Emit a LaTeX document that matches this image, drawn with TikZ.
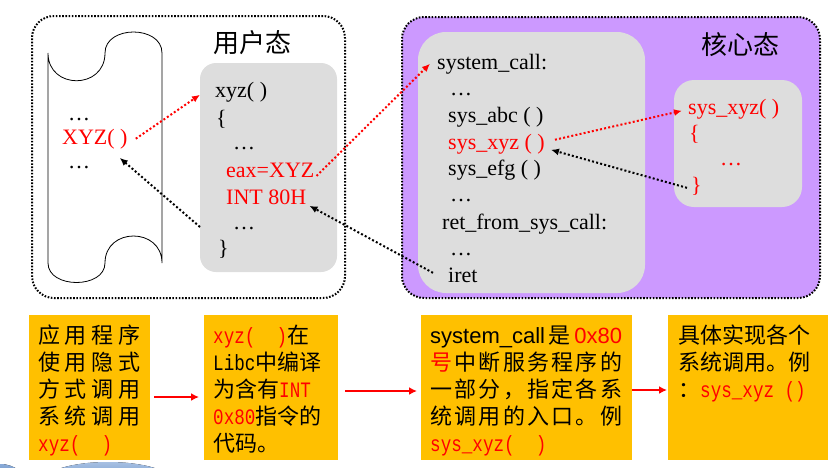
\documentclass[tikz,border=0pt]{standalone}
\usepackage{fontspec}
\usepackage{graphicx}
\setmainfont{Liberation Serif}
\newfontfamily\cjk{Noto Sans CJK SC}
\newfontfamily\sansf{Liberation Sans}
\newfontfamily\monof{Liberation Mono}
\usetikzlibrary{arrows.meta}
\definecolor{cred}{RGB}{255,0,0}
\definecolor{corange}{RGB}{255,192,0}
\definecolor{cgray}{RGB}{221,221,221}
\definecolor{cpurple}{RGB}{204,153,255}
\definecolor{cblue}{RGB}{60,115,190}
\newcommand\mn[1]{\scalebox{0.8}[1]{\monof #1}}
\newcommand\lines[1]{\vtop{\baselineskip=27pt\lineskiplimit=-30pt\halign{##\hfil\cr#1\crcr}}}
\begin{document}
\begin{tikzpicture}[x=1pt,y=-1pt,
  code/.style={anchor=base west,inner sep=0pt,font=\fontsize{22}{24}\selectfont},
  rcode/.style={code,text=cred},
  statetitle/.style={anchor=center,inner sep=0pt,font=\cjk\fontsize{26}{28}\selectfont},
  statebox/.style={draw=black,line width=2pt,dash pattern=on 1.6pt off 1.6pt,rounded corners=22pt,anchor=north west,inner sep=0pt,outer sep=0pt},
  graybox/.style={fill=cgray,anchor=north west,inner sep=0pt,outer sep=0pt},
  callarrow/.style={line width=2pt,dash pattern=on 2pt off 2.2pt,-{Latex[length=8pt,width=7pt]}},
  notebox/.style={fill=corange,anchor=north west,inner sep=0pt,outer sep=0pt},
  ntext/.style={anchor=base west,inner sep=0pt,font=\cjk\fontsize{22}{27}\selectfont},
  flow/.style={draw=cred,line width=2pt,-{Latex[length=8pt,width=8pt]}}
]
\useasboundingbox (0,0) rectangle (831,467);

% background swoosh
\begin{scope}
  \clip (0,440) rectangle (831,467);
  \fill[top color=cblue!45, bottom color=cblue] (108,481) ellipse [x radius=64pt, y radius=19pt];
  \fill[top color=cblue!60, bottom color=cblue!80!black] (0,488) ellipse [x radius=28pt, y radius=24pt];
\end{scope}

% state boxes
\node[statebox, minimum width=313pt, minimum height=282pt] (user) at (32,16) {};
\node[statebox, fill=cpurple, minimum width=418pt, minimum height=281pt] (kern) at (402,17) {};
\node[statetitle] (usertitle) at (252,43) {用户态};
\node[statetitle] (kerntitle) at (740,45) {核心态};

% scroll (application program)
\draw[line width=0.8pt] (48,53) -- (48,263)
  .. controls (48,289) and (105,289) .. (105,263)
  .. controls (105,227) and (162,227) .. (162,263)
  -- (162,53)
  .. controls (162,25) and (105,25) .. (105,53)
  .. controls (105,90) and (48,90) .. (48,53) -- cycle;
\node[code] (sd1) at (68,120) {…};
\node[rcode] (xyzcall) at (62,144) {XYZ(~)};
\node[code] (sd2) at (68,168) {…};

% user library code
\node[graybox, rounded corners=16pt, minimum width=137pt, minimum height=209pt] (ubox) at (200,63) {};
\node[code] (uxyz) at (215,97) {xyz( )};
\node[code] (uob) at (216,125) {\{};
\node[code] (ud1) at (233,149) {…};
\node[rcode] (ueax) at (226,177) {eax=XYZ};
\node[rcode] (uint) at (226,204) {INT 80H};
\node[code] (ud2) at (233,229) {…};
\node[code] (ucb) at (218,255) {\}};

% kernel system_call code
\node[graybox, rounded corners=28pt, minimum width=227pt, minimum height=261pt] (kbox) at (418,32) {};
\node[code] (ksc) at (437,69) {system\_call:};
\node[code] (kd1) at (450,95) {…};
\node[code] (kabc) at (448,122) {sys\_abc ( )};
\node[rcode] (kxyz) at (448,149) {sys\_xyz ( )};
\node[code] (kefg) at (448,175) {sys\_efg ( )};
\node[code] (kd2) at (450,201) {…};
\node[code] (kret) at (442,229) {ret\_from\_sys\_call:};
\node[code] (kd3) at (450,255) {…};
\node[code] (kiret) at (448,282) {iret};

% sys_xyz implementation
\node[graybox, rounded corners=20pt, minimum width=128pt, minimum height=127pt] (rbox) at (674,80) {};
\node[rcode] (rxyz) at (688,114) {sys\_xyz( )};
\node[rcode] (rob) at (689,140) {\{};
\node[rcode] (rd1) at (720,165) {…};
\node[rcode] (rcb) at (691,192) {\}};

% call / return arrows
\draw[callarrow, color=cred]
  ([xshift=8pt]xyzcall.east) -- ([xshift=-15pt,yshift=-3pt]uxyz.west);
\draw[callarrow] ([yshift=-59.5pt]ubox.west) -- ([xshift=-8pt,yshift=-9pt]xyzcall.south east);
\draw[callarrow, color=cred] ([xshift=2pt,yshift=-6pt]ueax.east) -- ([xshift=-7pt,yshift=0pt]ksc.west);
\draw[callarrow] ([xshift=-15pt,yshift=2pt]kiret.west) -- ([xshift=3pt,yshift=-9pt]uint.east);
\draw[callarrow, color=cred] ([xshift=10pt,yshift=4pt]kxyz.east) -- ([xshift=-6pt,yshift=-2pt]rxyz.west);
\draw[callarrow] ([xshift=-4pt,yshift=-2pt]rcb.west) -- ([xshift=6pt,yshift=-6pt]kxyz.east);

% bottom explanation boxes
\node[notebox, minimum width=121pt, minimum height=145pt] (n1) at (29,315) {};
\node[notebox, minimum width=134pt, minimum height=145pt] (n2) at (204,315) {};
\node[notebox, minimum width=211pt, minimum height=145pt] (n3) at (421,315) {};
\node[notebox, minimum width=160pt, minimum height=145pt] (n4) at (668,315) {};

\node[ntext] (t1) at (38,343) {\lines{%
\makebox[102pt][s]{应\hfill 用\hfill 程\hfill 序}\cr
\makebox[102pt][s]{使\hfill 用\hfill 隐\hfill 式}\cr
\makebox[102pt][s]{方\hfill 式\hfill 调\hfill 用}\cr
\makebox[102pt][s]{系\hfill 统\hfill 调\hfill 用}\cr
\textcolor{cred}{\mn{xyz(~~)}}}};

\node[ntext] (t2) at (213,343) {\lines{%
\textcolor{cred}{\mn{xyz(~~)}}在\cr
\mn{Libc}中编译\cr
为含有\textcolor{cred}{\mn{INT}}\cr
\textcolor{cred}{\mn{0x80}}指令的\cr
代码。}};

\node[ntext] (t3) at (430,343) {\lines{%
\makebox[192pt][s]{{\sansf system\_call}\hfill 是\hfill{\sansf\color{cred}0x80}}\cr
\makebox[192pt][s]{\textcolor{cred}{号}\hfill 中\hfill 断\hfill 服\hfill 务\hfill 程\hfill 序\hfill 的}\cr
\makebox[192pt][s]{一\hfill 部\hfill 分\hfill ，\hfill 指\hfill 定\hfill 各\hfill 系}\cr
\makebox[192pt][s]{统\hfill 调\hfill 用\hfill 的\hfill 入\hfill 口\hfill 。\hfill 例}\cr
\textcolor{cred}{\mn{sys\_xyz(~~)}}}};

\node[ntext] (t4) at (678,343) {\lines{%
具体实现各个\cr
系统调用。例\cr
：\textcolor{cred}{\mn{sys\_xyz~()}}}};

\draw[flow] ([xshift=4pt,yshift=-9.5pt]n1.east) -- ([xshift=-5pt,yshift=-9.5pt]n2.west);
\draw[flow] ([xshift=7pt,yshift=-3.5pt]n2.east) -- ([xshift=-4pt,yshift=-3.5pt]n3.west);
\draw[flow] ([xshift=0pt,yshift=-2.5pt]n3.east) -- ([xshift=-1pt,yshift=-2.5pt]n4.west);
\end{tikzpicture}
\end{document}
